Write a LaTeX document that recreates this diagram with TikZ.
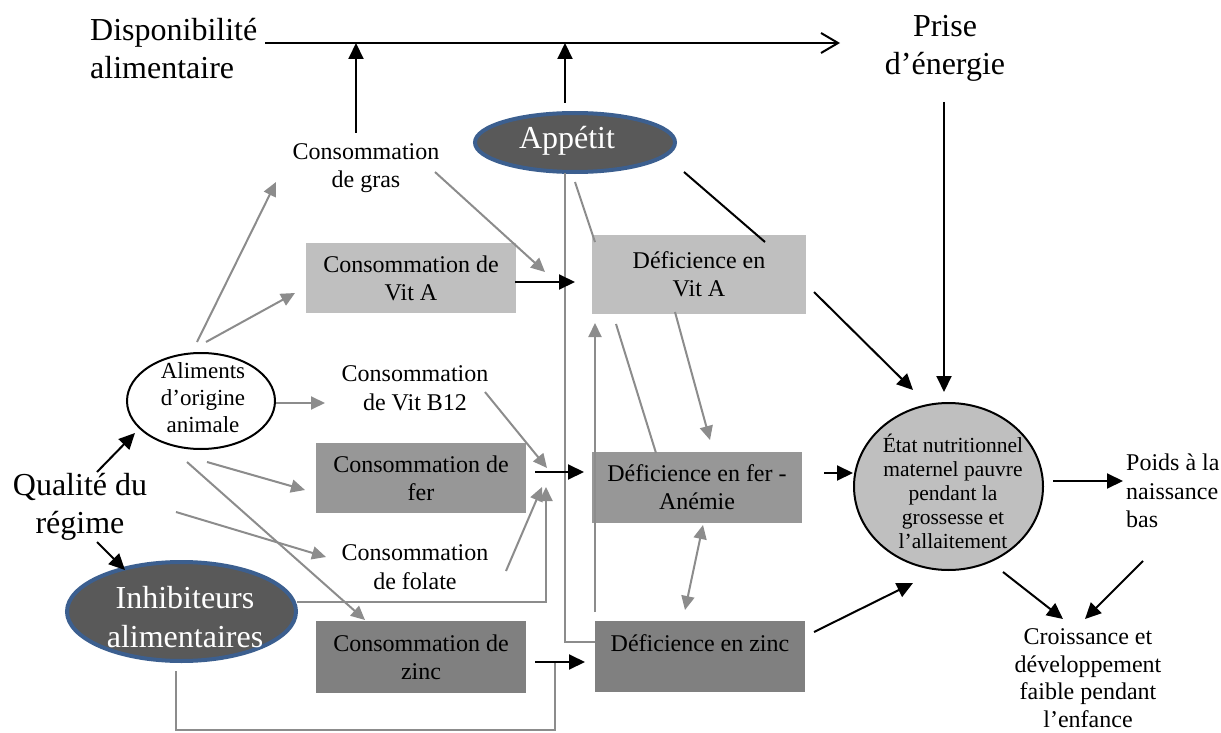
\documentclass[tikz,border=0pt]{standalone}
\usepackage{fontspec}
\setmainfont{Liberation Serif}
\usetikzlibrary{arrows.meta,shapes.geometric}
\definecolor{lbox}{HTML}{BFBFBF}
\definecolor{mbox}{HTML}{979797}
\definecolor{dbox}{HTML}{808080}
\definecolor{gline}{HTML}{8C8C8C}
\definecolor{efill}{HTML}{595959}
\definecolor{eblue}{HTML}{3C5F8F}
\tikzset{
  bigtxt/.style={font=\fontsize{32}{38}\selectfont, align=center, inner sep=0pt},
  midtxt/.style={font=\fontsize{24}{28.5}\selectfont, align=center, inner sep=0pt},
  boxnode/.style={rectangle, inner sep=0pt, font=\fontsize{24}{28}\selectfont, align=center},
  darkell/.style={ellipse, fill=efill, draw=eblue, line width=4pt, inner sep=0pt},
  whitetxt/.style={text=white, font=\fontsize{32}{39}\selectfont, align=center, inner sep=0pt},
  blk/.style={draw=black, line width=2pt, -{Triangle[length=16pt,width=15pt]}},
  blkline/.style={draw=black, line width=2pt},
  gry/.style={draw=gline, line width=2pt, -{Triangle[length=14pt,width=13pt]}},
  grydbl/.style={draw=gline, line width=2pt, {Triangle[length=14pt,width=13pt]}-{Triangle[length=14pt,width=13pt]}},
  gryline/.style={draw=gline, line width=2pt},
  opentip/.style={draw=black, line width=2pt, -{Straight Barb[length=17pt,width=20pt]}}
}
\begin{document}
\begin{tikzpicture}[x=1pt,y=-1pt]
\useasboundingbox (0,0) rectangle (1221,733);

% ---------- nodes ----------
\node[bigtxt, align=left, anchor=west] (dispo) at (90,49) {Disponibilité\\alimentaire};
\node[bigtxt] (prise) at (945,48) {Prise\\d’énergie};

\node[darkell, minimum width=200pt, minimum height=59pt] (app) at (575,142.5) {};
\node[whitetxt] (appt) at (567,141) {Appétit};

\node[midtxt] (gras) at (366,168) {Consommation\\de gras};

\node[boxnode, fill=lbox, minimum width=210pt, minimum height=70pt] (cva) at (411,278) {Consommation de\\Vit A};
\node[boxnode, fill=lbox, minimum width=214pt, minimum height=79pt] (dva) at (699,274.5) {Déficience en\\Vit A};

\node[ellipse, draw=black, line width=2pt, minimum width=148pt, minimum height=96pt, inner sep=0pt] (alim) at (201,401) {};
\node[font=\fontsize{23}{27}\selectfont, align=center, inner sep=0pt] (alimt) at (203,398) {Aliments\\d’origine\\animale};

\node[midtxt] (b12) at (415,388) {Consommation\\de Vit B12};

\node[boxnode, fill=mbox, minimum width=210pt, minimum height=70pt] (cfe) at (421,478) {Consommation de\\fer};
\node[boxnode, fill=mbox, minimum width=210pt, minimum height=71pt] (dfe) at (697,487.5) {Déficience en fer -\\Anémie};

\node[bigtxt] (qual) at (80,507) {Qualité du\\régime};

\node[midtxt] (fol) at (415,567) {Consommation\\de folate};

\node[darkell, minimum width=229pt, minimum height=99pt] (inh) at (181.5,611.5) {};
\node[whitetxt] (inht) at (185,617) {Inhibiteurs\\alimentaires};

\node[boxnode, fill=dbox, minimum width=210pt, minimum height=72pt] (czn) at (421,657) {Consommation de\\zinc};
\node[boxnode, fill=dbox, minimum width=210pt, minimum height=71pt] (dzn) at (700,656.5) {};
\node[boxnode] (dznt) at (700,643) {Déficience en zinc};

\node[ellipse, draw=black, line width=2pt, fill=lbox, minimum width=189pt, minimum height=167pt, inner sep=0pt] (etat) at (948.5,486.5) {};
\node[font=\fontsize{21.5}{24}\selectfont, align=center, inner sep=0pt] (etatt) at (953,491) {État nutritionnel\\maternel pauvre\\pendant la\\grossesse et\\l’allaitement};

\node[midtxt, align=left, anchor=west] (poids) at (1126,491) {Poids à la\\naissance\\bas};
\node[font=\fontsize{24}{27.5}\selectfont, align=center, inner sep=0pt] (crois) at (1088,678) {Croissance et\\développement\\faible pendant\\l’enfance};

% ---------- connector end points ----------
\coordinate (topL) at (265,43);
\coordinate (topR) at (840,43);
\coordinate (grasUp) at (356,43);
\coordinate (grasTop) at (356,133);
\coordinate (appUp) at (565,43);
\coordinate (appTop) at (565,103);
\coordinate (appR) at (684,172);
\coordinate (dvaTop) at (765,242);
\coordinate (cvaR) at (515,282);
\coordinate (vitAin) at (575,282);
\coordinate (cfeR) at (535,472);
\coordinate (ferin) at (584,472);
\coordinate (cznR) at (535,662);
\coordinate (zincin) at (585,662);
\coordinate (priseB) at (944,102);
\coordinate (etatTop) at (944,392);
\coordinate (dvaR) at (814,292);
\coordinate (etatNW) at (913,390);
\coordinate (dfeR) at (824,473);
\coordinate (etatW) at (853,473);
\coordinate (dznR) at (814,632);
\coordinate (etatSW) at (913,583);
\coordinate (etatE) at (1053,481);
\coordinate (poidsW) at (1123,481);
\coordinate (etatSE) at (1003,572);
\coordinate (croisL) at (1063,619);
\coordinate (poidsB) at (1143,561);
\coordinate (croisR) at (1085,619);
\coordinate (qualTop) at (97,472);
\coordinate (alimSW) at (135,433);
\coordinate (qualBot) at (97,542);
\coordinate (inhNW) at (125,570);

\coordinate (alimT1) at (197,342);
\coordinate (grasIn) at (276,182);
\coordinate (alimT2) at (206,342);
\coordinate (cvaIn) at (295,293);
\coordinate (alimE) at (276,403);
\coordinate (b12In) at (325,403);
\coordinate (alimB1) at (207,462);
\coordinate (cfeIn) at (305,490);
\coordinate (alimB2) at (187,462);
\coordinate (cznIn) at (365,620);
\coordinate (qualR) at (176,512);
\coordinate (folIn) at (326,557);
\coordinate (grasR) at (435,172);
\coordinate (grasTip) at (545,272);
\coordinate (b12R) at (485,392);
\coordinate (b12Tip) at (547,468);
\coordinate (folR) at (506,571);
\coordinate (folTip) at (542,487);
\coordinate (inhE) at (297,602);
\coordinate (inhC1) at (546,602);
\coordinate (inhTip) at (546,487);
\coordinate (inhB) at (176,671);
\coordinate (inhC2) at (176,730);
\coordinate (inhC3) at (555,730);
\coordinate (inhJ) at (555,662);
\coordinate (appB) at (565,173);
\coordinate (appC) at (565,642);
\coordinate (dznW) at (595,642);
\coordinate (appB2) at (575,182);
\coordinate (dvaNW) at (595,242);
\coordinate (dznUp) at (595,612);
\coordinate (dvaB1) at (595,323);
\coordinate (dfeT) at (656,453);
\coordinate (dvaB2) at (616,324);
\coordinate (dvaB3) at (675,312);
\coordinate (dfeTip) at (710,440);
\coordinate (dfeB) at (703,525);
\coordinate (dznT) at (685,610);

% ---------- grey connectors ----------
\draw[gry] (alimT1) -- (grasIn);
\draw[gry] (alimT2) -- (cvaIn);
\draw[gry] (alimE) -- (b12In);
\draw[gry] (alimB1) -- (cfeIn);
\draw[gry] (alimB2) -- (cznIn);
\draw[gry] (qualR) -- (folIn);
\draw[gry] (grasR) -- (grasTip);
\draw[gry] (b12R) -- (b12Tip);
\draw[gry] (folR) -- (folTip);
\draw[gry] (inhE) -- (inhC1) -- (inhTip);
\draw[gryline] (inhB) -- (inhC2) -- (inhC3) -- (inhJ);
\draw[gryline] (appB) -- (appC) -- (dznW);
\draw[gryline] (appB2) -- (dvaNW);
\draw[gry] (dznUp) -- (dvaB1);
\draw[gryline] (dfeT) -- (dvaB2);
\draw[gry] (dvaB3) -- (dfeTip);
\draw[grydbl] (dfeB) -- (dznT);

% ---------- black connectors ----------
\draw[opentip] (topL) -- (topR);
\draw[blk] (grasTop) -- (grasUp);
\draw[blk] (appTop) -- (appUp);
\draw[blkline] (appR) -- (dvaTop);
\draw[blk] (cvaR) -- (vitAin);
\draw[blk] (cfeR) -- (ferin);
\draw[blk] (cznR) -- (zincin);
\draw[blk] (priseB) -- (etatTop);
\draw[blk] (dvaR) -- (etatNW);
\draw[blk] (dfeR) -- (etatW);
\draw[blk] (dznR) -- (etatSW);
\draw[blk] (etatE) -- (poidsW);
\draw[blk] (etatSE) -- (croisL);
\draw[blk] (poidsB) -- (croisR);
\draw[blk] (qualTop) -- (alimSW);
\draw[blk] (qualBot) -- (inhNW);
\end{tikzpicture}
\end{document}
